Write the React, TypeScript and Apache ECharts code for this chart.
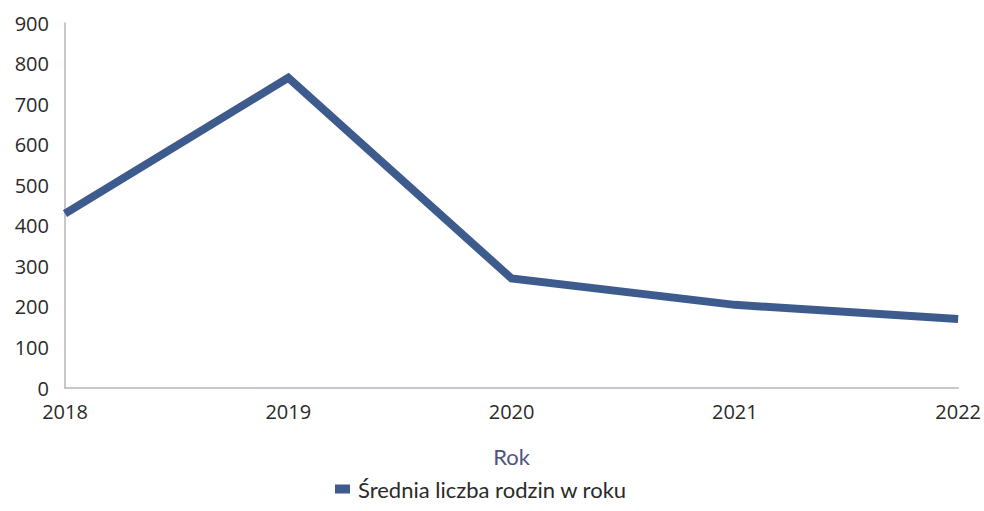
import React, { useEffect, useRef } from "react";
import * as echarts from "echarts";

const years = ["2018", "2019", "2020", "2021", "2022"];
const values = [430, 765, 270, 205, 170];
const seriesName = "Średnia liczba rodzin w roku";
const axisTitle = "Rok";

export default function App() {
  const ref = useRef<HTMLDivElement>(null);
  useEffect(() => {
    if (!ref.current) return;
    const chart = echarts.init(ref.current, undefined, { renderer: "svg" });
    chart.setOption({
      animation: false,
      backgroundColor: "#ffffff",
      grid: { left: 65, right: 25, top: 23, bottom: 123, containLabel: false },
      xAxis: {
        type: "category",
        data: years,
        boundaryGap: false,
        name: axisTitle,
        nameLocation: "middle",
        nameGap: 57,
        nameTextStyle: { fontFamily: "Lato", fontSize: 22, color: "#4d5480" },
        axisLine: { lineStyle: { color: "#b4b4bc", width: 1.5 } },
        axisTick: { show: false },
        axisLabel: { fontFamily: "Open Sans", fontSize: 20, color: "#2a2a2a", margin: 13 },
      },
      yAxis: {
        type: "value",
        min: 0,
        max: 900,
        interval: 100,
        axisLine: { show: true, lineStyle: { color: "#b4b4bc", width: 1.5 } },
        axisTick: { show: false },
        splitLine: { show: false },
        axisLabel: { fontFamily: "Open Sans", fontSize: 20, color: "#2a2a2a", margin: 16 },
      },
      legend: {
        bottom: 6,
        left: 330,
        itemWidth: 15,
        itemHeight: 9,
        itemGap: 10,
        icon: "rect",
        textStyle: { fontFamily: "Lato", fontSize: 22, color: "#2a2a2a", padding: [0, 0, 0, 3] },
        data: [seriesName],
      },
      series: [
        {
          name: seriesName,
          type: "line",
          data: values,
          symbol: "none",
          color: "#3e5b8e",
          lineStyle: { width: 8, color: "#3e5b8e", cap: "butt", join: "miter" },
        },
      ],
    });
    return () => chart.dispose();
  }, []);
  return <div ref={ref} style={{ width: 984, height: 511, position: "absolute", left: 0, top: 0 }} />;
}
